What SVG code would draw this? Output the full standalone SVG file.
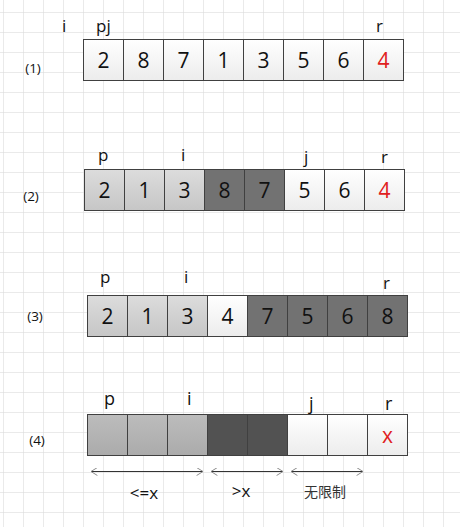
<svg xmlns="http://www.w3.org/2000/svg" width="460" height="527" viewBox="0 0 460 527">
<defs>
<pattern id="grid" x="3" y="12" width="20" height="20" patternUnits="userSpaceOnUse">
<path d="M0 0H20M0 0V20" fill="none" stroke="#d6d6d6" stroke-width="1"/>
</pattern>
<linearGradient id="gw" x1="0" y1="0" x2="0" y2="1"><stop offset="0" stop-color="#ffffff"/><stop offset="1" stop-color="#ececec"/></linearGradient>
<linearGradient id="gl" x1="0" y1="0" x2="0" y2="1"><stop offset="0" stop-color="#dcdcdc"/><stop offset="1" stop-color="#c6c6c6"/></linearGradient>
<linearGradient id="gm" x1="0" y1="0" x2="0" y2="1"><stop offset="0" stop-color="#bcbcbc"/><stop offset="1" stop-color="#ababab"/></linearGradient>
<marker id="ah" viewBox="0 0 10 10" refX="9" refY="5" markerWidth="8" markerHeight="8" markerUnits="userSpaceOnUse" orient="auto-start-reverse">
<path d="M1 0L9 5L1 10" fill="none" stroke="#888" stroke-width="1.2"/>
</marker>
</defs>
<style>
.c{stroke:#404040;stroke-width:1}
.w{fill:url(#gw)}
.l{fill:url(#gl)}
.m{fill:url(#gm)}
.d{fill:#727272}
.k{fill:#525252}
.n{font-family:"Open Sans","Liberation Sans",sans-serif;font-size:21px;fill:#111;text-anchor:middle}
.red{fill:#e02020}
.lb{font-family:"Open Sans","Liberation Sans",sans-serif;font-size:17px;fill:#111}
.rl{font-family:"Open Sans","Liberation Sans",sans-serif;font-size:13.5px;fill:#111;text-anchor:middle}
.ar{stroke:#333;stroke-width:1;fill:none}
</style>
<rect width="460" height="527" fill="#ffffff"/>
<rect width="460" height="527" fill="url(#grid)"/>

<g id="row1">
<text class="rl" x="33" y="73">(1)</text>
<text class="lb" x="62" y="32">i</text>
<text class="lb" x="96" y="32">pj</text>
<text class="lb" x="376" y="32">r</text>
<g id="r1c1"><rect class="c w" x="83.5" y="39.5" width="40" height="41"/><text class="n" x="103.5" y="67.5">2</text></g>
<g id="r1c2"><rect class="c w" x="123.5" y="39.5" width="40" height="41"/><text class="n" x="143.5" y="67.5">8</text></g>
<g id="r1c3"><rect class="c w" x="163.5" y="39.5" width="40" height="41"/><text class="n" x="183.5" y="67.5">7</text></g>
<g id="r1c4"><rect class="c w" x="203.5" y="39.5" width="40" height="41"/><text class="n" x="223.5" y="67.5">1</text></g>
<g id="r1c5"><rect class="c w" x="243.5" y="39.5" width="40" height="41"/><text class="n" x="263.5" y="67.5">3</text></g>
<g id="r1c6"><rect class="c w" x="283.5" y="39.5" width="40" height="41"/><text class="n" x="303.5" y="67.5">5</text></g>
<g id="r1c7"><rect class="c w" x="323.5" y="39.5" width="40" height="41"/><text class="n" x="343.5" y="67.5">6</text></g>
<g id="r1c8"><rect class="c w" x="363.5" y="39.5" width="40" height="41"/><text class="n red" x="383.5" y="67.5">4</text></g>
</g>

<g id="row2">
<text class="rl" x="31" y="201">(2)</text>
<text class="lb" x="98" y="161">p</text>
<text class="lb" x="181" y="161">i</text>
<text class="lb" x="304" y="163">j</text>
<text class="lb" x="381" y="163">r</text>
<g id="r2c1"><rect class="c l" x="84.5" y="169.5" width="40" height="41"/><text class="n" x="104.5" y="197.5">2</text></g>
<g id="r2c2"><rect class="c l" x="124.5" y="169.5" width="40" height="41"/><text class="n" x="144.5" y="197.5">1</text></g>
<g id="r2c3"><rect class="c l" x="164.5" y="169.5" width="40" height="41"/><text class="n" x="184.5" y="197.5">3</text></g>
<g id="r2c4"><rect class="c d" x="204.5" y="169.5" width="40" height="41"/><text class="n" x="224.5" y="197.5">8</text></g>
<g id="r2c5"><rect class="c d" x="244.5" y="169.5" width="40" height="41"/><text class="n" x="264.5" y="197.5">7</text></g>
<g id="r2c6"><rect class="c w" x="284.5" y="169.5" width="40" height="41"/><text class="n" x="304.5" y="197.5">5</text></g>
<g id="r2c7"><rect class="c w" x="324.5" y="169.5" width="40" height="41"/><text class="n" x="344.5" y="197.5">6</text></g>
<g id="r2c8"><rect class="c w" x="364.5" y="169.5" width="40" height="41"/><text class="n red" x="384.5" y="197.5">4</text></g>
</g>

<g id="row3">
<text class="rl" x="35" y="321">(3)</text>
<text class="lb" x="100" y="283">p</text>
<text class="lb" x="184" y="283">i</text>
<text class="lb" x="383" y="289">r</text>
<g id="r3c1"><rect class="c l" x="87.5" y="295.5" width="40" height="41"/><text class="n" x="107.5" y="323.5">2</text></g>
<g id="r3c2"><rect class="c l" x="127.5" y="295.5" width="40" height="41"/><text class="n" x="147.5" y="323.5">1</text></g>
<g id="r3c3"><rect class="c l" x="167.5" y="295.5" width="40" height="41"/><text class="n" x="187.5" y="323.5">3</text></g>
<g id="r3c4"><rect class="c w" x="207.5" y="295.5" width="40" height="41"/><text class="n" x="227.5" y="323.5">4</text></g>
<g id="r3c5"><rect class="c d" x="247.5" y="295.5" width="40" height="41"/><text class="n" x="267.5" y="323.5">7</text></g>
<g id="r3c6"><rect class="c d" x="287.5" y="295.5" width="40" height="41"/><text class="n" x="307.5" y="323.5">5</text></g>
<g id="r3c7"><rect class="c d" x="327.5" y="295.5" width="40" height="41"/><text class="n" x="347.5" y="323.5">6</text></g>
<g id="r3c8"><rect class="c d" x="367.5" y="295.5" width="40" height="41"/><text class="n" x="387.5" y="323.5">8</text></g>
</g>

<g id="row4">
<text class="rl" x="37" y="445">(4)</text>
<text class="lb" x="104" y="405" style="font-size:18px">p</text>
<text class="lb" x="187" y="405" style="font-size:18px">i</text>
<text class="lb" x="309" y="410" style="font-size:18px">j</text>
<text class="lb" x="385" y="410" style="font-size:18px">r</text>
<g id="r4c1"><rect class="c m" x="87.5" y="414.5" width="40" height="41"/></g>
<g id="r4c2"><rect class="c m" x="127.5" y="414.5" width="40" height="41"/></g>
<g id="r4c3"><rect class="c m" x="167.5" y="414.5" width="40" height="41"/></g>
<g id="r4c4"><rect class="c k" x="207.5" y="414.5" width="40" height="41"/></g>
<g id="r4c5"><rect class="c k" x="247.5" y="414.5" width="40" height="41"/></g>
<g id="r4c6"><rect class="c w" x="287.5" y="414.5" width="40" height="41"/></g>
<g id="r4c7"><rect class="c w" x="327.5" y="414.5" width="40" height="41"/></g>
<g id="r4c8"><rect class="c w" x="367.5" y="414.5" width="40" height="41"/><text class="n red" x="387.5" y="443">x</text></g>
</g>

<g id="connectors">
<line class="ar" x1="91" y1="471.5" x2="203" y2="471.5" marker-start="url(#ah)" marker-end="url(#ah)"/>
<line class="ar" x1="211" y1="471.5" x2="283" y2="471.5" marker-start="url(#ah)" marker-end="url(#ah)"/>
<line class="ar" x1="291" y1="471.5" x2="363" y2="471.5" marker-start="url(#ah)" marker-end="url(#ah)"/>
</g>

<g id="labels">
<text class="lb" x="144" y="499" text-anchor="middle">&lt;=x</text>
<text class="lb" x="241" y="497" text-anchor="middle">&gt;x</text>
<text x="325" y="497" text-anchor="middle" style="font-family:'Noto Sans CJK SC',sans-serif;font-size:14px;fill:#333">无限制</text>
</g>
</svg>
